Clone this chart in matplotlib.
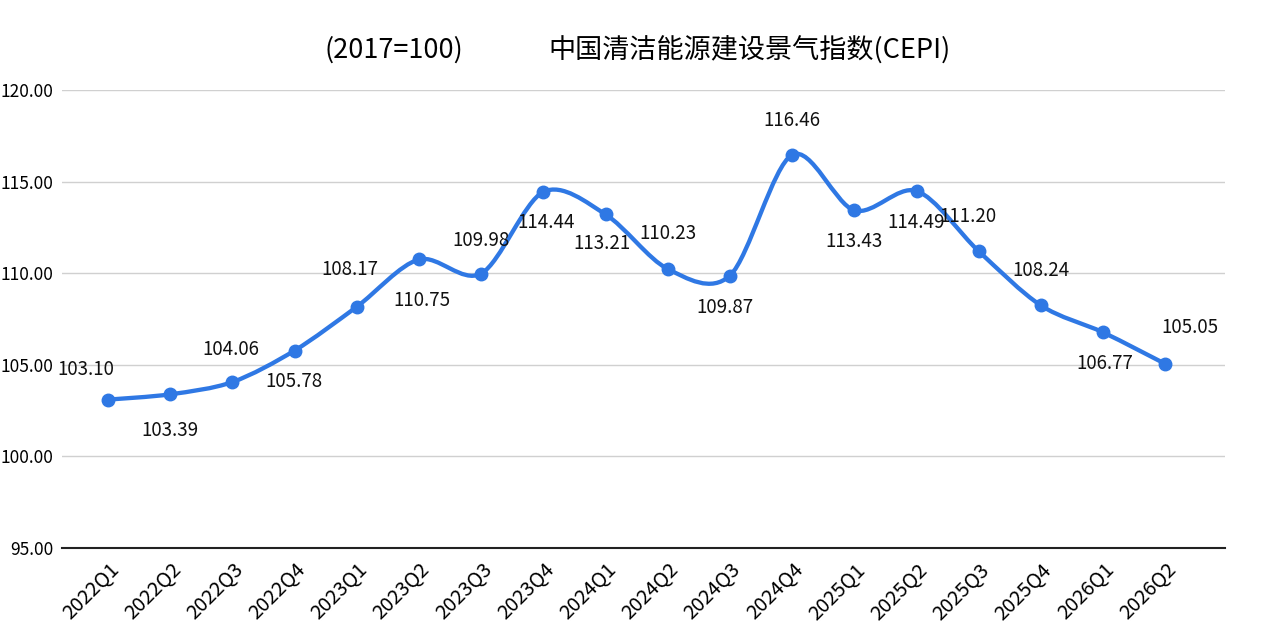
import numpy as np
import matplotlib
matplotlib.use("Agg")
import matplotlib.pyplot as plt
from matplotlib.path import Path
from matplotlib.patches import PathPatch

plt.rcParams['font.family'] = ['Noto Sans CJK SC', 'DejaVu Sans']

quarters = ['2022Q1', '2022Q2', '2022Q3', '2022Q4', '2023Q1', '2023Q2', '2023Q3', '2023Q4',
            '2024Q1', '2024Q2', '2024Q3', '2024Q4', '2025Q1', '2025Q2', '2025Q3', '2025Q4',
            '2026Q1', '2026Q2']
cepi = [103.10, 103.39, 104.06, 105.78, 108.17, 110.75, 109.98, 114.44,
        113.21, 110.23, 109.87, 116.46, 113.43, 114.49, 111.20, 108.24,
        106.77, 105.05]
# label offsets in pixels (dx, dy), dy positive = up
label_off = [(-22, 30), (0, -36), (-2, 33), (-1, -31), (-7, 37), (3, -41), (0, 33), (3, -31),
             (-4, -29), (0, 35), (-5, -32), (0, 34), (0, -31), (0, -32), (-11, 35), (0, 35),
             (2, -31), (25, 36)]

blue = '#2f78e4'

fig = plt.figure(figsize=(12.69, 6.32), dpi=100)
ax = fig.add_axes([0.0489, 0.1329, 0.9164, 0.7247])

x = np.arange(len(cepi))
y = np.array(cepi)

# smoothed line like the spreadsheet "smooth line" option (Catmull-Rom bezier)
verts = [(x[0], y[0])]
codes = [Path.MOVETO]
for i in range(len(x) - 1):
    p0 = np.array([x[max(i - 1, 0)], y[max(i - 1, 0)]])
    p1 = np.array([x[i], y[i]])
    p2 = np.array([x[i + 1], y[i + 1]])
    p3 = np.array([x[min(i + 2, len(x) - 1)], y[min(i + 2, len(x) - 1)]])
    c1 = p1 + (p2 - p0) / 6.5
    c2 = p2 - (p3 - p1) / 6.5
    verts += [tuple(c1), tuple(c2), tuple(p2)]
    codes += [Path.CURVE4] * 3
ax.add_patch(PathPatch(Path(verts, codes), facecolor='none', edgecolor=blue, lw=3.1,
                       capstyle='round', joinstyle='round', zorder=3))
ax.plot(x, y, 'o', color=blue, ms=9, zorder=4)

for xi, yi, (dx, dy) in zip(x, y, label_off):
    ax.annotate(f'{yi:.2f}', (xi, yi), xytext=(dx, dy), textcoords='offset pixels',
                ha='center', va='center', fontsize=13.5, color='#111111', zorder=5)

ax.set_xlim(-0.74, 17.96)
ax.set_ylim(95, 120)
ax.set_yticks(np.arange(95, 121, 5))
ax.set_yticklabels([f'{v:.2f}' for v in np.arange(95, 121, 5)], fontsize=12.5)
ax.set_xticks(x)
ax.set_xticklabels(quarters, rotation=45, ha='right', rotation_mode='anchor', fontsize=14.5)
ax.tick_params(axis='y', length=0, pad=6)
ax.tick_params(axis='x', length=0, pad=8)
ax.grid(axis='y', color='#d0d0d0', lw=1)
ax.set_axisbelow(True)
for s in ['top', 'right', 'left']:
    ax.spines[s].set_visible(False)
ax.spines['bottom'].set_color('#222222')
ax.spines['bottom'].set_linewidth(1.5)

fig.text(0.31, 0.921, '(2017=100)', ha='center', va='center', fontsize=19.5)
fig.text(0.591, 0.921, '中国清洁能源建设景气指数(CEPI)', ha='center', va='center', fontsize=19.5)

fig.savefig('out.png', dpi=100, facecolor='white')
